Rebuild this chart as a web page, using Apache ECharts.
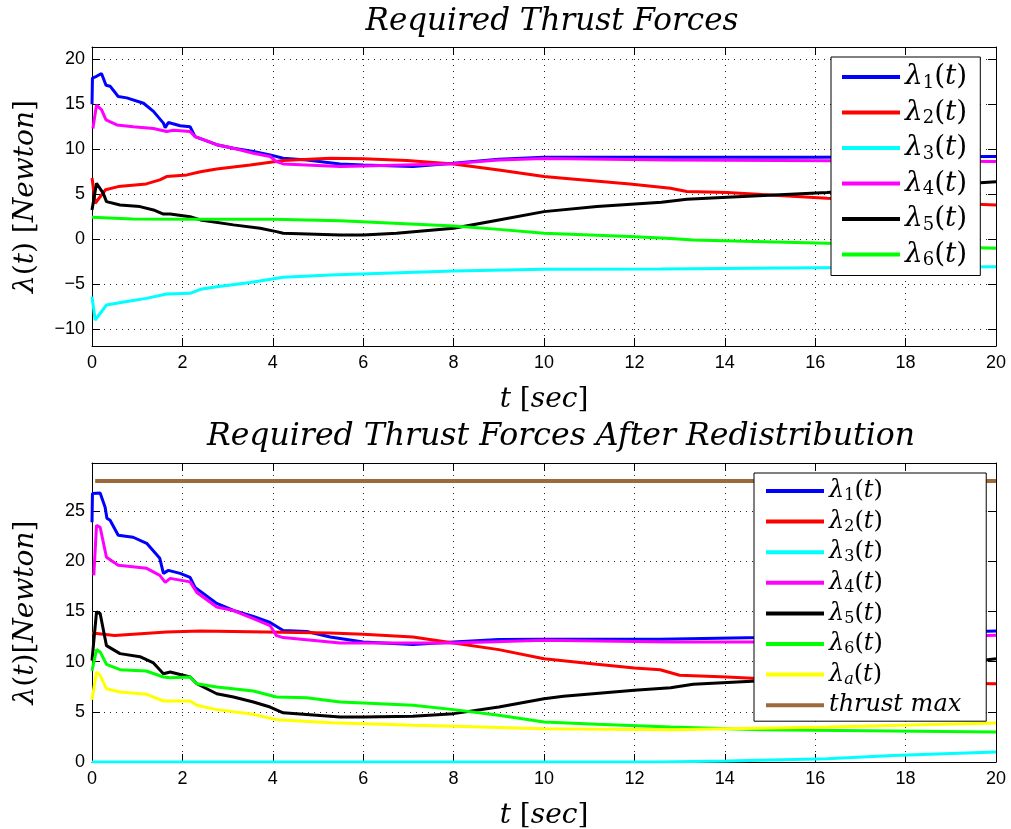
<!DOCTYPE html>
<html><head><meta charset="utf-8">
<script src="https://cdn.jsdelivr.net/npm/echarts@6/dist/echarts.min.js"></script>
<style>html,body{margin:0;padding:0;background:#fff}#c{width:1011px;height:829px}</style>
</head><body><div id="c"></div><script>
// ---------- tick labels / categories ----------
const xTicks = [0, 2, 4, 6, 8, 10, 12, 14, 16, 18, 20];
const yTicksTop = [-10, -5, 0, 5, 10, 15, 20];
const yTicksBottom = [0, 5, 10, 15, 20, 25];
const namesTop = ['λ1(t)', 'λ2(t)', 'λ3(t)', 'λ4(t)', 'λ5(t)', 'λ6(t)'];
const namesBottom = ['λ1(t)', 'λ2(t)', 'λ3(t)', 'λ4(t)', 'λ5(t)', 'λ6(t)', 'λa(t)', 'thrust max'];

// ---------- top plot: Required Thrust Forces ----------
const t1T = [0, 0.01, 0.1, 0.21, 0.31, 0.4, 0.58, 0.77, 1.14, 1.36, 1.58, 1.62, 1.69, 1.95, 2.17, 2.28, 2.76, 3.13, 3.57, 3.94, 4.23, 4.75, 5.49, 6, 7.1, 8, 9, 10, 12.8, 16, 20];
const l1T = [15, 17.9, 18.1, 18.4, 17.1, 17.0, 15.85, 15.7, 15.1, 14.2, 12.9, 12.4, 12.96, 12.6, 12.5, 11.4, 10.5, 10.1, 9.74, 9.37, 9.0, 8.8, 8.37, 8.26, 8.07, 8.44, 8.9, 9.1, 9.1, 9.1, 9.19];
const t2T = [0, 0.01, 0.07, 0.3, 0.58, 1.2, 1.5, 1.65, 2.1, 2.4, 2.76, 3.5, 4.23, 5.27, 6, 6.97, 8, 9, 10, 10.43, 11.9, 12.8, 13.16, 14.05, 16.26, 20];
const l2T = [6.8, 6.5, 4.0, 5.5, 5.85, 6.15, 6.6, 6.96, 7.15, 7.5, 7.8, 8.26, 8.74, 9.0, 8.93, 8.74, 8.37, 7.7, 6.96, 6.78, 6.15, 5.67, 5.3, 5.19, 4.56, 3.8];
const t3T = [0, 0.07, 0.32, 0.77, 1.2, 1.65, 2.17, 2.4, 2.76, 3.5, 4.23, 5.27, 8, 10, 12.57, 16, 20];
const l3T = [-6.37, -8.96, -7.3, -6.9, -6.56, -6.07, -6.0, -5.56, -5.26, -4.8, -4.22, -3.96, -3.52, -3.33, -3.3, -3.15, -3.04];
const t4T = [0.02, 0.1, 0.21, 0.31, 0.55, 0.91, 1.36, 1.65, 1.8, 2.17, 2.28, 2.76, 3.13, 3.57, 3.94, 4.08, 4.23, 5.49, 6, 8, 9, 10, 12.8, 20];
const l4T = [12.3, 14.9, 14.4, 13.26, 12.7, 12.5, 12.3, 11.96, 12.1, 11.96, 11.4, 10.5, 10.1, 9.56, 9.19, 8.63, 8.37, 8.07, 8.15, 8.4, 8.8, 8.96, 8.8, 8.63];
const t5T = [0, 0.1, 0.25, 0.32, 0.62, 1.06, 1.36, 1.58, 1.73, 2.17, 2.4, 3.13, 3.72, 4.08, 4.23, 5.49, 6, 6.74, 8, 9, 10, 11.17, 12.6, 13.16, 14.05, 16.26, 20];
const l5T = [3.26, 6.22, 5.1, 4.18, 3.8, 3.63, 3.26, 2.8, 2.8, 2.5, 2.15, 1.6, 1.22, 0.85, 0.67, 0.48, 0.48, 0.67, 1.22, 2.15, 3.07, 3.63, 4.1, 4.44, 4.67, 5.19, 6.4];
const t6T = [0, 0.9, 2.4, 4, 5.49, 8, 9, 10, 11.9, 12.8, 13.3, 16.26, 20];
const l6T = [2.44, 2.26, 2.22, 2.22, 2.07, 1.48, 1.1, 0.67, 0.3, 0.08, -0.07, -0.44, -1.0];

// ---------- bottom plot: After Redistribution ----------
const t1B = [0, 0.01, 0.18, 0.29, 0.33, 0.4, 0.58, 0.91, 1.21, 1.5, 1.58, 1.69, 1.95, 2.17, 2.28, 2.76, 3.13, 3.57, 3.94, 4.23, 4.75, 5.27, 6, 7.1, 8, 9, 10, 12.57, 14.8, 20];
const l1B = [23.9, 26.75, 26.8, 25.4, 24.3, 24.1, 22.6, 22.4, 21.8, 20.3, 18.8, 19.1, 18.8, 18.4, 17.4, 15.8, 15.1, 14.5, 13.9, 13.1, 13.0, 12.46, 11.96, 11.7, 11.96, 12.2, 12.23, 12.23, 12.4, 13.06];
const t2B = [0, 0.5, 1.65, 2.4, 5.27, 6, 7.1, 8, 9, 10, 11.17, 12, 12.57, 13.0, 14.05, 16.26, 20];
const l2B = [12.86, 12.6, 12.96, 13.06, 12.86, 12.73, 12.46, 11.86, 11.2, 10.3, 9.74, 9.37, 9.2, 8.64, 8.47, 7.98, 7.8];
const t3B = [0, 12.57, 14.05, 16.26, 17.73, 20];
const l3B = [0, 0, 0.1, 0.33, 0.66, 1.0];
const t4B = [0.04, 0.1, 0.18, 0.32, 0.58, 1.21, 1.5, 1.62, 1.73, 2.17, 2.32, 2.76, 3.13, 3.57, 3.94, 4.08, 4.23, 5.49, 8, 10, 12.8, 14.8, 20];
const l4B = [18.6, 23.6, 23.4, 20.4, 19.6, 19.3, 18.6, 17.9, 18.3, 17.95, 16.9, 15.45, 15.1, 14.3, 13.6, 12.6, 12.4, 11.86, 11.86, 12.13, 11.96, 11.96, 12.63];
const t5B = [0, 0.1, 0.18, 0.32, 0.62, 1.06, 1.36, 1.58, 1.73, 2.17, 2.32, 2.76, 3.13, 3.57, 3.94, 4.23, 5.49, 6, 7.1, 8, 9, 10, 10.43, 12, 12.8, 13.3, 14.6, 16, 18, 20];
const l5B = [10.1, 14.95, 14.8, 11.6, 10.8, 10.5, 9.87, 8.8, 8.97, 8.47, 7.8, 6.8, 6.48, 5.98, 5.48, 4.9, 4.49, 4.49, 4.55, 4.82, 5.48, 6.31, 6.55, 7.15, 7.4, 7.74, 8.05, 8.3, 9.2, 10.3];
const t6B = [0, 0.1, 0.18, 0.32, 0.62, 1.2, 1.58, 1.73, 2.17, 2.32, 2.76, 3.57, 4.08, 4.75, 5.49, 6, 7.1, 8, 9, 10, 11.17, 12.8, 14.8, 20];
const l6B = [9.1, 11.2, 10.97, 9.74, 9.2, 9.07, 8.47, 8.4, 8.47, 7.8, 7.48, 7.08, 6.48, 6.41, 5.98, 5.88, 5.65, 5.22, 4.65, 3.99, 3.76, 3.49, 3.22, 2.99];
const taB = [0, 0.1, 0.18, 0.32, 0.62, 1.21, 1.58, 2.17, 2.32, 2.76, 3.57, 4.08, 5.3, 7.1, 8, 10, 12.8, 16.26, 20];
const laB = [6.2, 8.97, 8.64, 7.3, 6.98, 6.75, 6.08, 6.08, 5.65, 5.22, 4.75, 4.22, 3.9, 3.66, 3.56, 3.32, 3.22, 3.49, 3.89];
const tMax = [0.07, 20];
const lMax = [28, 28];

const colors = ['#0000ff', '#ff0000', '#00ffff', '#ff00ff', '#000000', '#00ff00', '#ffff00', '#9c6a3a'];

// ---------- build ----------
const SERIF = 'DejaVu Serif';
const zip = (t, v) => t.map((x, i) => [x, v[i]]);
const richFor = (fs, sub, lh) => ({
  l: { fontFamily: SERIF, fontSize: fs, lineHeight: lh, color: '#000' },
  i: { fontFamily: SERIF, fontStyle: 'italic', fontSize: fs, lineHeight: lh, color: '#000' },
  s: { fontFamily: SERIF, fontSize: sub, lineHeight: sub, verticalAlign: 'bottom', color: '#000' },
  si: { fontFamily: SERIF, fontStyle: 'italic', fontSize: sub, lineHeight: sub, verticalAlign: 'bottom', color: '#000' }
});
function legendFmt(name) {
  if (name === 'thrust max') return '{i|thrust max}';
  const sub = name.charAt(1);
  return '{i|λ}' + (sub === 'a' ? '{si|a}' : '{s|' + sub + '}') + '{l|(}{i|t}{l|)}';
}
const fmtNum = v => (v < 0 ? '−' + Math.abs(v) : String(v));

function axesFor(gi, ymin, ymax, yTicks, yName) {
  const line = { show: true, onZero: false, lineStyle: { color: '#000', width: 1 } };
  const tick = { show: true, inside: true, length: 8, lineStyle: { color: '#000', width: 1 } };
  const split = { show: true, lineStyle: { color: '#000', width: 1, type: [1, 5], opacity: 0.85 } };
  const yLabel = {
    color: '#000', fontFamily: 'Liberation Sans', fontSize: 18, margin: 7,
    showMinLabel: yTicks.includes(ymin), showMaxLabel: yTicks.includes(ymax),
    formatter: v => (yTicks.some(k => Math.abs(k - v) < 1e-6) ? fmtNum(Math.round(v)) : '')
  };
  const x = [{
    type: 'value', gridIndex: gi, min: xTicks[0], max: xTicks[xTicks.length - 1], interval: 2, position: 'bottom',
    axisLine: line, axisTick: tick, splitLine: split,
    axisLabel: { color: '#000', fontFamily: 'Liberation Sans', fontSize: 18, margin: 8 },
    name: '{i|t}{l| [}{i|sec}{l|]}', nameLocation: 'middle', nameGap: 38,
    nameTextStyle: { rich: richFor(28, 18, 32) }
  }, {
    type: 'value', gridIndex: gi, min: xTicks[0], max: xTicks[xTicks.length - 1], interval: 2, position: 'top',
    axisLine: line, axisTick: tick, splitLine: { show: false }, axisLabel: { show: false }
  }];
  const y = [{
    type: 'value', gridIndex: gi, min: ymin, max: ymax, splitNumber: 6, position: 'left',
    axisLine: line, axisTick: tick, splitLine: split, axisLabel: yLabel,
    name: yName, nameLocation: 'middle', nameGap: 50, nameRotate: 90,
    nameTextStyle: { rich: richFor(28, 18, 32) }
  }, {
    type: 'value', gridIndex: gi, min: ymin, max: ymax, splitNumber: 6, position: 'right',
    axisLine: line, axisTick: tick, splitLine: { show: false }, axisLabel: { show: false }
  }];
  return { x, y };
}

const topAx = axesFor(0, -11.85, 21.35, yTicksTop, '{i|λ}{l|(}{i|t}{l|) [}{i|Newton}{l|]}');
const botAx = axesFor(1, 0, 29.8, yTicksBottom, '{i|λ}{l|(}{i|t}{l|)[}{i|Newton}{l|]}');
botAx.y.forEach(a => { a.interval = 5; delete a.splitNumber; });

const topData = [zip(t1T, l1T), zip(t2T, l2T), zip(t3T, l3T), zip(t4T, l4T), zip(t5T, l5T), zip(t6T, l6T)];
const botData = [zip(t1B, l1B), zip(t2B, l2B), zip(t3B, l3B), zip(t4B, l4B), zip(t5B, l5B), zip(t6B, l6B), zip(taB, laB), zip(tMax, lMax)];

const series = [];
topData.forEach((d, i) => series.push({
  type: 'line', name: namesTop[i], xAxisIndex: 0, yAxisIndex: 0, data: d,
  symbol: 'none', showSymbol: false, color: colors[i],
  lineStyle: { width: 3, color: colors[i] }, z: 2 + i, animation: false
}));
botData.forEach((d, i) => series.push({
  type: 'line', name: namesBottom[i], xAxisIndex: 2, yAxisIndex: 2, data: d,
  symbol: 'none', showSymbol: false, color: colors[i],
  lineStyle: { width: i === 7 ? 4 : 3, color: colors[i] }, z: 2 + i, animation: false
}));

const legendBase = {
  orient: 'vertical', icon: 'rect', itemWidth: 58, selectedMode: false,
  backgroundColor: '#fff', borderColor: '#000', borderWidth: 1, borderRadius: 0,
  formatter: legendFmt, z: 20
};

const option = {
  backgroundColor: '#fff',
  animation: false,
  title: [
    { text: 'Required Thrust Forces', left: 547, top: 1, textAlign: 'center',
      textStyle: { fontFamily: SERIF, fontStyle: 'italic', fontWeight: 'normal', fontSize: 31, color: '#000' } },
    { text: 'Required Thrust Forces After Redistribution', left: 556, top: 416, textAlign: 'center',
      textStyle: { fontFamily: SERIF, fontStyle: 'italic', fontWeight: 'normal', fontSize: 31.5, color: '#000' } }
  ],
  grid: [
    { left: 92, right: 15, top: 47, height: 299, containLabel: false, outerBoundsMode: 'none' },
    { left: 92, right: 15, top: 463, height: 299, containLabel: false, outerBoundsMode: 'none' }
  ],
  xAxis: [...topAx.x, ...botAx.x],
  yAxis: [...topAx.y, ...botAx.y],
  legend: [
    Object.assign({}, legendBase, {
      data: namesTop, left: 831, top: 57, itemHeight: 4, itemGap: 5.5, padding: [5, 13, 6, 11],
      textStyle: { fontSize: 28, lineHeight: 30, rich: richFor(28, 18, 30) }
    }),
    Object.assign({}, legendBase, {
      data: namesBottom, left: 754, top: 473, itemHeight: 4, itemGap: 4.6, padding: [5, 25, 3, 12],
      textStyle: { fontSize: 24, lineHeight: 26, rich: richFor(24, 16, 26) }
    })
  ],
  series
};

const chart = echarts.init(document.getElementById('c'), null, { renderer: 'canvas' });
chart.setOption(option);
</script></body></html>
